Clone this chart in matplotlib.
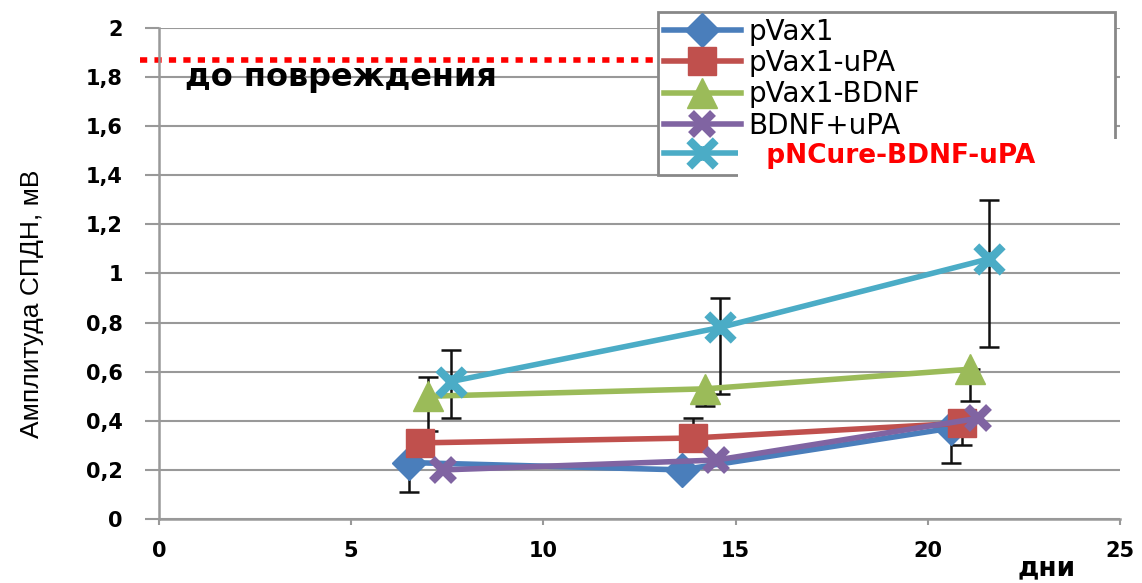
import matplotlib
matplotlib.use("Agg")
import matplotlib.pyplot as plt
from matplotlib.path import Path
import numpy as np

plt.rcParams['font.family'] = ['DejaVu Sans']

# data
labels = ["pVax1", "pVax1-uPA", "pVax1-BDNF", "BDNF+uPA", "pNCure-BDNF-uPA"]
colors = ["#4A7EBB", "#C0504D", "#9BBB59", "#8064A2", "#4BACC6"]

x_pvax = [6.5, 13.6, 20.6]
y_pvax = [0.23, 0.20, 0.37]
err_pvax = [[0.12, 0.0, 0.14], [0.0, 0.0, 0.0]]

x_upa = [6.8, 13.9, 20.9]
y_upa = [0.31, 0.33, 0.39]
err_upa = [[0.0, 0.0, 0.09], [0.0, 0.08, 0.0]]

x_bdnf = [7.0, 14.2, 21.1]
y_bdnf = [0.50, 0.53, 0.61]
err_bdnf = [[0.14, 0.07, 0.13], [0.08, 0.0, 0.0]]

x_both = [7.4, 14.5, 21.3]
y_both = [0.20, 0.24, 0.41]

x_cure = [7.6, 14.6, 21.6]
y_cure = [0.56, 0.78, 1.06]
err_cure = [[0.15, 0.27, 0.36], [0.13, 0.12, 0.24]]

baseline = 1.87
xticks = [0, 5, 10, 15, 20, 25]
yticks = [0, 0.2, 0.4, 0.6, 0.8, 1.0, 1.2, 1.4, 1.6, 1.8, 2.0]

# excel-like "star" marker: an X with a short vertical stroke
star = Path([(-1, -1), (1, 1), (-1, 1), (1, -1), (0, -0.55), (0, 0.55)],
            [Path.MOVETO, Path.LINETO, Path.MOVETO, Path.LINETO, Path.MOVETO, Path.LINETO])

fig = plt.figure(figsize=(11.42, 5.83), dpi=100)
ax = fig.add_axes([0.1392, 0.1098, 0.9807 - 0.1392, 0.952 - 0.1098])

ekw = dict(fmt='none', ecolor='#111111', elinewidth=1.8, capsize=7, capthick=1.8, zorder=2)
ax.errorbar(x_pvax, y_pvax, yerr=err_pvax, **ekw)
ax.errorbar(x_upa, y_upa, yerr=err_upa, **ekw)
ax.errorbar(x_bdnf, y_bdnf, yerr=err_bdnf, **ekw)
ax.errorbar(x_cure, y_cure, yerr=err_cure, **ekw)

lw = 4
h1, = ax.plot(x_pvax, y_pvax, color=colors[0], lw=lw, marker='D', ms=17, zorder=3)
h2, = ax.plot(x_upa, y_upa, color=colors[1], lw=lw, marker='s', ms=20, zorder=3)
h3, = ax.plot(x_bdnf, y_bdnf, color=colors[2], lw=lw, marker='^', ms=21, zorder=3)
h4, = ax.plot(x_both, y_both, color=colors[3], lw=lw, marker='x', ms=16, mew=6, zorder=4)
h5, = ax.plot(x_cure, y_cure, color=colors[4], lw=lw, marker=star, ms=19, mew=6, zorder=4)

# red dotted baseline "before injury"
ax.plot([-0.5, 25], [baseline, baseline], color='red', lw=4, ls=(0, (1.3, 1.3)),
        clip_on=False, zorder=1)
ax.text(0.68, 1.80, "до повреждения", fontsize=23, fontweight='bold',
        va='center', ha='left')

ax.set_xlim(0, 25)
ax.set_ylim(0, 2)
ax.set_xticks(xticks)
ax.set_yticks(yticks)
ax.set_xticklabels([str(v) for v in xticks], fontsize=15, fontweight='bold')
ax.set_yticklabels([f"{v:g}".replace('.', ',') for v in yticks], fontsize=15,
                   fontweight='bold')
ax.tick_params(axis='both', color='#999999', width=1.5)
ax.tick_params(axis='x', length=4.5, pad=11)
ax.tick_params(axis='y', length=10, pad=16)

ax.grid(axis='y', color='#999999', lw=1.5)
ax.set_axisbelow(True)
for s in ['top', 'right']:
    ax.spines[s].set_visible(False)
for s in ['left', 'bottom']:
    ax.spines[s].set_color('#999999')
    ax.spines[s].set_linewidth(1.8)

fig.text(0.028, 1 - 304 / 583, "Амплитуда СПДН, мВ", fontsize=19, rotation=90,
         ha='center', va='center', family=['Liberation Sans', 'DejaVu Sans'])
fig.text(1047 / 1142, 1 - 568 / 583, "дни", fontsize=19, fontweight='bold',
         ha='center', va='center')

leg = fig.legend([h1, h2, h3, h4, h5], labels, loc='upper left',
                 bbox_to_anchor=(658 / 1142, 0.969, (1115 - 658) / 1142, 0.01),
                 bbox_transform=fig.transFigure, mode='expand',
                 fontsize=20, frameon=True, fancybox=False, framealpha=1,
                 edgecolor='#888888', handlelength=2.8, labelspacing=0.12,
                 borderpad=0.2, handletextpad=0.25, borderaxespad=0)
leg.get_frame().set_linewidth(2)


# white patch behind the last label that hides the corner of the legend frame
def cover(x0, y0, width, height, mutation_size):
    l, r, b, t = 10, 260, 10, 4
    return Path([(x0 - l, y0 - b), (x0 + width + r, y0 - b), (x0 + width + r, y0 + height + t),
                 (x0 - l, y0 + height + t), (x0 - l, y0 - b)], closed=True)


last = leg.get_texts()[-1]
last.set_text("  pNCure-BDNF-uPA")
last.set_color('red')
last.set_fontweight('bold')
last.set_fontsize(19)
last.set_bbox(dict(boxstyle=cover, facecolor='white', edgecolor='none'))

fig.savefig("out.png", dpi=100)
